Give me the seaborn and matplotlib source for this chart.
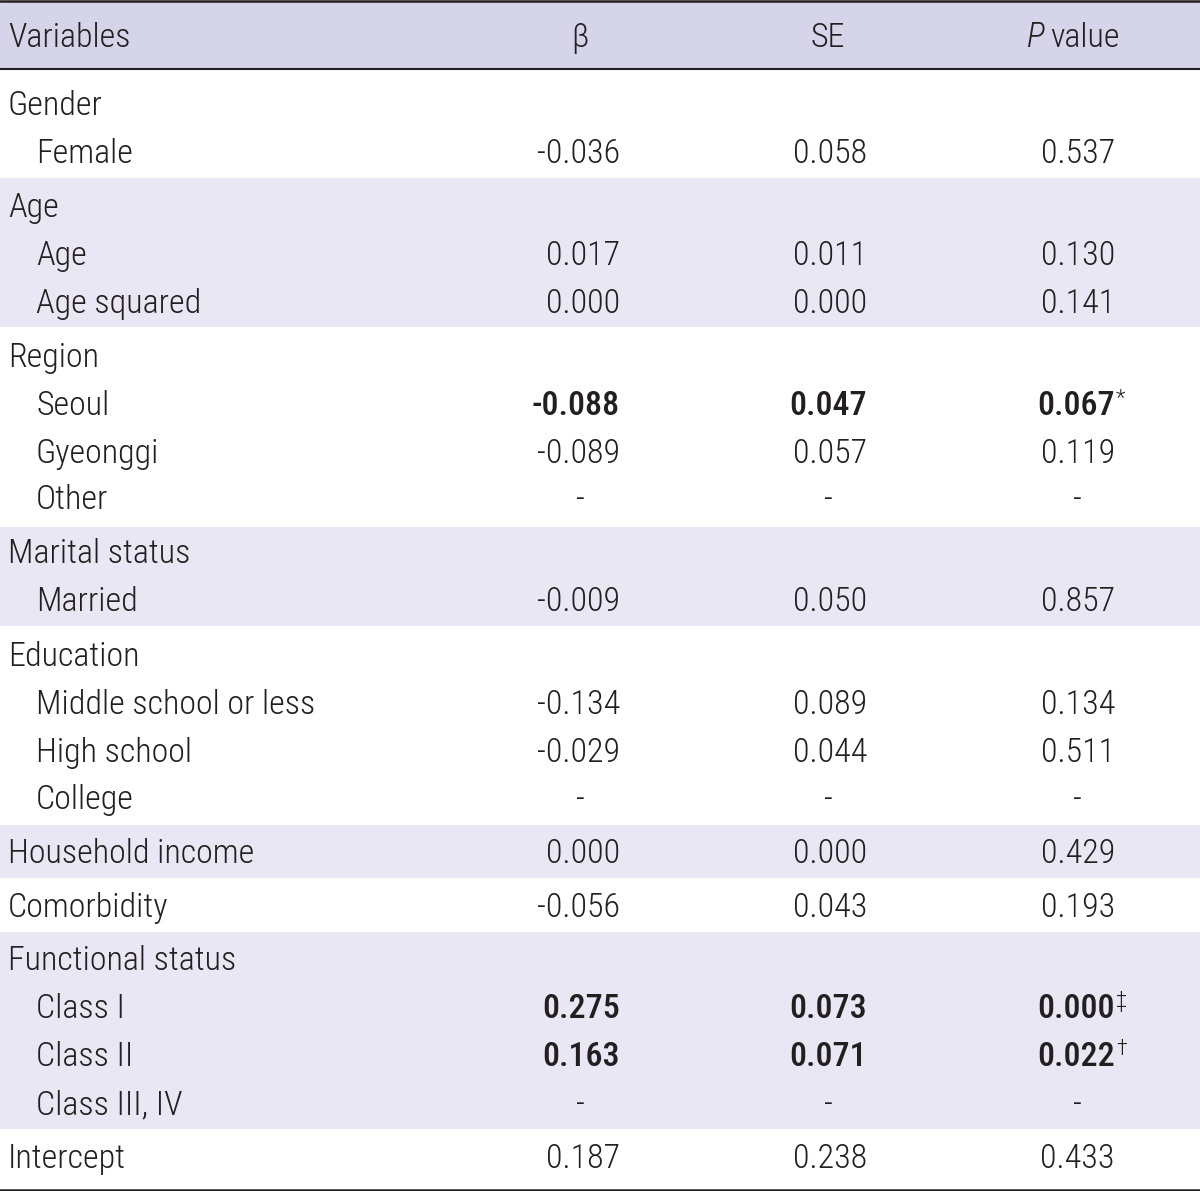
import matplotlib
matplotlib.use("Agg")
import matplotlib.pyplot as plt
import seaborn as sns
from matplotlib import font_manager

sns.set_theme(style="white")
entries = font_manager.fontManager.ttflist
names = {f.name for f in entries}
FONT = "Liberation Sans"
for cand in ["Roboto Condensed", "Archivo Narrow", "PT Sans Narrow", "Fira Sans Condensed",
             "IBM Plex Sans Condensed", "Barlow Semi Condensed", "Liberation Sans Narrow"]:
    if cand in names:
        FONT = cand
        break
weights = {f.weight for f in entries if f.name == FONT and f.style == "normal"}
W_NORMAL = 300 if 300 in weights else 400
W_BOLD = 500 if 500 in weights else (600 if 600 in weights else 700)
plt.rcParams['font.family'] = [FONT, 'DejaVu Sans']

# ---- data ----
headers = ["Variables", "β", "SE", "P value"]
labels = ["Gender", "Female", "Age", "Age", "Age squared", "Region", "Seoul", "Gyeonggi", "Other",
          "Marital status", "Married", "Education", "Middle school or less", "High school", "College",
          "Household income", "Comorbidity", "Functional status", "Class I", "Class II", "Class III, IV",
          "Intercept"]
indent = [0, 1, 0, 1, 1, 0, 1, 1, 1, 0, 1, 0, 1, 1, 1, 0, 0, 0, 1, 1, 1, 0]
beta = ["", "-0.036", "", "0.017", "0.000", "", "-0.088", "-0.089", "-", "", "-0.009", "", "-0.134",
        "-0.029", "-", "0.000", "-0.056", "", "0.275", "0.163", "-", "0.187"]
se = ["", "0.058", "", "0.011", "0.000", "", "0.047", "0.057", "-", "", "0.050", "", "0.089",
      "0.044", "-", "0.000", "0.043", "", "0.073", "0.071", "-", "0.238"]
pval = ["", "0.537", "", "0.130", "0.141", "", "0.067", "0.119", "-", "", "0.857", "", "0.134",
        "0.511", "-", "0.429", "0.193", "", "0.000", "0.022", "-", "0.433"]
psup = ["", "", "", "", "", "", "*", "", "", "", "", "", "", "", "", "", "", "", "‡", "†", "", ""]
bold = [False] * 6 + [True] + [False] * 11 + [True, True] + [False, False]
groups = [(0, 2, False), (2, 5, True), (5, 9, False), (9, 11, True), (11, 15, False),
          (15, 16, True), (16, 17, False), (17, 21, True), (21, 22, False)]

# ---- layout ----
W, H = 1200, 1191
fig = plt.figure(figsize=(W / 100, H / 100), dpi=100)
ax = fig.add_axes([0, 0, 1, 1])
ax.set_xlim(0, W)
ax.set_ylim(H, 0)
ax.axis("off")

TXT = "#231f20"
HEAD_BG = "#d5d4e8"
BAND_BG = "#e8e7f3"
FS = 24.5

row_y = [103, 151, 205, 253, 301, 355, 403, 451, 497, 551, 599, 654, 702, 750, 797,
         851, 905, 958, 1006, 1054, 1102, 1156]
group_edges = [69, 178, 327, 527, 626, 825, 878, 932, 1129, 1188]
OFF = 12  # baseline offset from row centre

ax.axhspan(2, 68, color=HEAD_BG, lw=0)
for gi, (a, b, shaded) in enumerate(groups):
    if shaded:
        ax.axhspan(group_edges[gi], group_edges[gi + 1], color=BAND_BG, lw=0)

ax.axhline(1.2, color=TXT, lw=1.8)
ax.axhline(68.5, color=TXT, lw=1.5)
ax.axhline(1189.5, color=TXT, lw=1.8)

col_right = [620, 867, 1115]
col_center = [580, 828, 1077]

kw = dict(fontsize=FS, color=TXT, va="baseline")
ax.text(8, 35 + OFF, headers[0], ha="left", weight=W_NORMAL, **kw)
ax.text(col_center[0], 35 + OFF, headers[1], ha="center", weight=W_NORMAL, **kw)
ax.text(col_center[1], 35 + OFF, headers[2], ha="center", weight=W_NORMAL, **kw)
ax.text(1045, 35 + OFF, "P", ha="right", style="italic", weight=W_NORMAL, **kw)
ax.text(1050, 35 + OFF, "value", ha="left", weight=W_NORMAL, **kw)

for i, lab in enumerate(labels):
    y = row_y[i] + OFF
    ax.text(8 + 28 * indent[i], y, lab, ha="left", weight=W_NORMAL, **kw)
    w = W_BOLD if bold[i] else W_NORMAL
    for c, vals in enumerate([beta, se, pval]):
        v = vals[i]
        if v == "":
            continue
        if v == "-":
            ax.text(col_center[c], y, "-", ha="center", weight=W_NORMAL, **kw)
        else:
            ax.text(col_right[c], y, v, ha="right", weight=w, **kw)
    if psup[i]:
        ax.text(col_right[2] + 1, y - 11, psup[i], fontsize=FS * 0.65, color=TXT,
                ha="left", va="baseline", weight=W_NORMAL)

fig.savefig("out.png", dpi=100)
